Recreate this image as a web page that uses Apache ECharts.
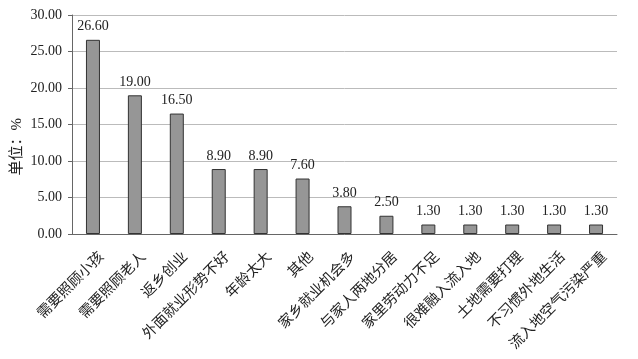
<!DOCTYPE html>
<html><head><meta charset="utf-8">
<script src="https://cdn.jsdelivr.net/npm/echarts@6/dist/echarts.min.js"></script>
<style>html,body{margin:0;padding:0;background:#fff}#c{width:638px;height:359px}</style>
</head><body><div id="c"></div>
<script>
const categories = ['需要照顾小孩','需要照顾老人','返乡创业','外面就业形势不好','年龄太大','其他','家乡就业机会多','与家人两地分居','家里劳动力不足','很难融入流入地','土地需要打理','不习惯外地生活','流入地空气污染严重'];
const values = [26.6, 19.0, 16.5, 8.9, 8.9, 7.6, 3.8, 2.5, 1.3, 1.3, 1.3, 1.3, 1.3];
const yTicks = { min: 0, max: 30, interval: 5 };
const yName = '单位：%';
const serif = '"Liberation Serif","Noto Sans CJK SC",serif';
const chart = echarts.init(document.getElementById('c'));
chart.setOption({
  animation: false,
  grid: { left: 72, right: 21, top: 15, bottom: 125 },
  graphic: [{
    type: 'text', left: 10, top: 118, rotation: Math.PI / 2,
    style: { text: yName, fill: '#222', font: '15px ' + serif }
  }],
  xAxis: {
    type: 'category', data: categories,
    axisLine: { lineStyle: { color: '#666', width: 1 } },
    axisTick: { show: false },
    axisLabel: { rotate: 45, interval: 0, color: '#222', fontSize: 14.5, fontFamily: serif, margin: 12, lineHeight: 25,
      formatter: v => ' \n' + v }
  },
  yAxis: {
    type: 'value', min: yTicks.min, max: yTicks.max, interval: yTicks.interval,
    axisLine: { show: true, lineStyle: { color: '#666' } },
    axisTick: { show: true, inside: false, length: 4, lineStyle: { color: '#666' } },
    axisLabel: { color: '#222', fontSize: 14, fontFamily: serif, margin: 10, formatter: v => v.toFixed(2) },
    splitLine: { lineStyle: { color: '#bbb', width: 1 } }
  },
  series: [{
    type: 'bar', data: values, barWidth: 14,
    itemStyle: { color: '#969696', borderColor: '#333', borderWidth: 1 },
    label: { show: true, position: 'top', distance: 6, color: '#222', fontSize: 14, fontFamily: serif, formatter: p => p.value.toFixed(2) }
  }]
});
</script></body></html>
